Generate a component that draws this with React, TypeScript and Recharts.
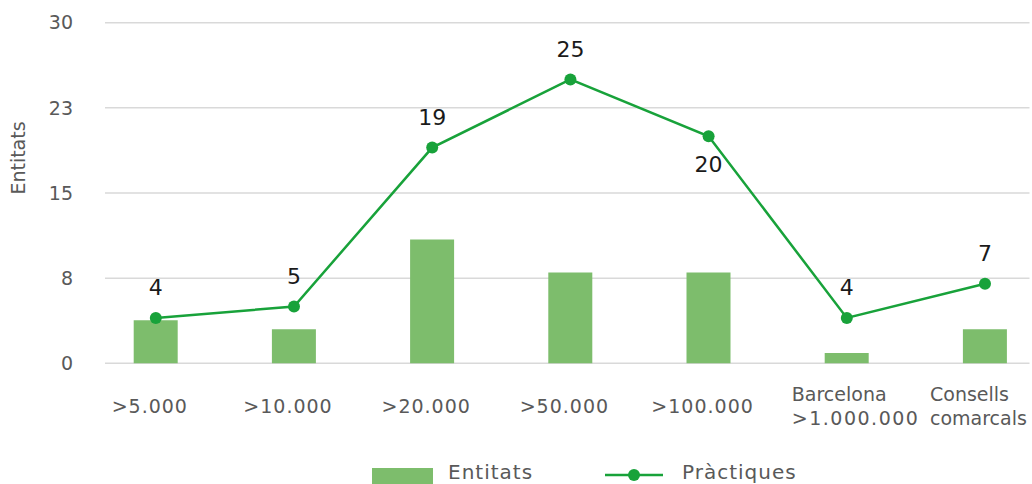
import React from 'react';
import { ComposedChart, Bar, Line, XAxis, YAxis, CartesianGrid, Legend, LabelList } from 'recharts';

const categories = ['>5.000', '>10.000', '>20.000', '>50.000', '>100.000', 'Barcelona\n>1.000.000', 'Consells\ncomarcals'];
const entitats = [3.8, 3, 10.9, 8, 8, 0.9, 3];
const practiques = [4, 5, 19, 25, 20, 4, 7];
const yTicks = [0, 7.5, 15, 22.5, 30];

const FONT = "'DejaVu Sans', sans-serif";
const GREY = '#595959';
const BAR_COLOR = '#7dbd6c';
const LINE_COLOR = '#18a23a';

const data = categories.map((cat, i) => ({
  cat,
  entitats: entitats[i],
  practiques: practiques[i],
}));

// etiquetes de l'eix X, les de dues línies alineades a l'esquerra
const CategoryTick = (props: any) => {
  const { x, y, payload } = props;
  const lines = String(payload.value).split('\n');
  if (lines.length === 1) {
    return (
      <text x={x - 6} y={y + 43} textAnchor="middle" dominantBaseline="central"
        fill={GREY} fontFamily={FONT} fontSize={19} letterSpacing={1}>
        {lines[0]}
      </text>
    );
  }
  return (
    <text fill={GREY} fontFamily={FONT} fontSize={19} textAnchor="start">
      {lines.map((l, i) => (
        <tspan key={i} x={x - 55} y={y + 31 + i * 24} dominantBaseline="central"
          letterSpacing={/\d/.test(l) ? 1.5 : 0}>
          {l}
        </tspan>
      ))}
    </text>
  );
};

const PointLabel = (props: any) => {
  const { x, y, value, index } = props;
  // el 20 va per sota del punt
  const below = index === 4;
  return (
    <text x={x} y={below ? y + 28 : y - 30} textAnchor="middle" dominantBaseline="central"
      fill="#1a1a1a" fontFamily={FONT} fontSize={22}>
      {value}
    </text>
  );
};

const LegendContent = (props: any) => {
  const items = props.payload || [];
  const bar = items.find((p: any) => p.dataKey === 'entitats');
  const line = items.find((p: any) => p.dataKey === 'practiques');
  return (
    <div style={{ height: 22 }}>
      <svg width={1032} height={22} style={{ display: 'block', overflow: 'visible' }}>
        <rect x={372} y={6} width={61} height={16} fill={BAR_COLOR} />
        <text x={448} y={17} fill={GREY} fontFamily={FONT} fontSize={20} letterSpacing={1}>{bar?.value}</text>
        <line x1={605} x2={663} y1={13} y2={13} stroke={LINE_COLOR} strokeWidth={2.5} />
        <circle cx={634} cy={13} r={6} fill={LINE_COLOR} />
        <text x={682} y={17} fill={GREY} fontFamily={FONT} fontSize={20} letterSpacing={1}>{line?.value}</text>
      </svg>
    </div>
  );
};

export default function App() {
  return (
    <div style={{ position: 'absolute', left: 0, top: 0, width: 1032, height: 484, background: '#fff' }}>
      <ComposedChart width={1032} height={484} data={data}
        margin={{ top: 22.7, right: 2.5, bottom: 0, left: 0 }}>
        <CartesianGrid vertical={false} stroke="#d9d9d9" strokeWidth={1.5} />
        <XAxis dataKey="cat" height={98.7} axisLine={false} tickLine={false}
          tickSize={0} tickMargin={0} interval={0}
          padding={{ left: -18.3, right: -24.6 }} tick={<CategoryTick />} />
        <YAxis domain={[0, 30]} ticks={yTicks} width={105} axisLine={false} tickLine={false}
          tickSize={0} tickMargin={32}
          tickFormatter={(v: number) => String(Math.round(v))}
          tick={{ fill: GREY, fontFamily: FONT, fontSize: 19 }}
          label={{
            content: () => (
              <text x={18} y={158} transform="rotate(-90 18 158)" textAnchor="middle"
                dominantBaseline="central" fill={GREY} fontFamily={FONT} fontSize={19}>
                Entitats
              </text>
            ),
          }} />
        <Legend verticalAlign="bottom" content={<LegendContent />}
          wrapperStyle={{ left: 0, bottom: 0, width: 1032 }} />
        <Bar dataKey="entitats" name="Entitats" fill={BAR_COLOR} barSize={44} isAnimationActive={false} />
        <Line dataKey="practiques" name="Pràctiques" stroke={LINE_COLOR} strokeWidth={2.5}
          dot={{ r: 6, fill: LINE_COLOR, stroke: LINE_COLOR, strokeWidth: 0 }}
          activeDot={false} isAnimationActive={false}>
          <LabelList dataKey="practiques" content={<PointLabel />} />
        </Line>
      </ComposedChart>
    </div>
  );
}
